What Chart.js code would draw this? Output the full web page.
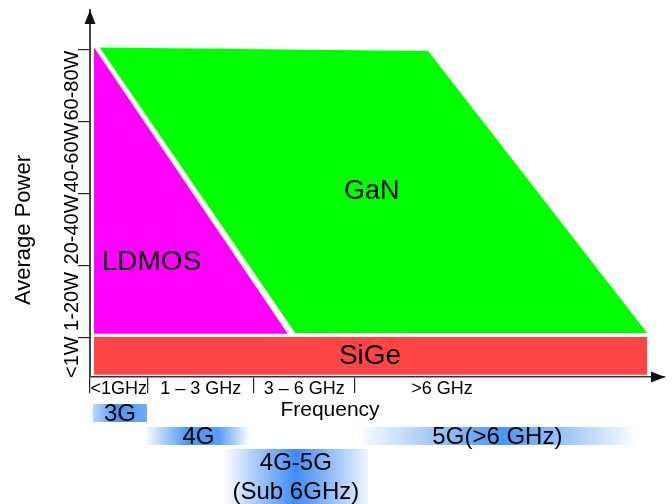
<!DOCTYPE html>
<html><head><meta charset="utf-8">
<script src="https://cdn.jsdelivr.net/npm/chart.js@4/dist/chart.umd.min.js"></script>
<style>html,body{margin:0;padding:0;background:#fff;}#wrap{width:672px;height:504px;position:relative;}</style>
</head><body><div id="wrap"><canvas id="c"></canvas></div>
<script>
// ---- Frequency axis (abstract units), category boundaries and labels
const freqBounds = [0, 1, 2.85, 4.6, 7.64];
const freqLabels = ['<1GHz', '1 – 3 GHz', '3 – 6 GHz', '>6 GHz'];
// ---- Power axis (abstract units), class boundaries and labels
const powerBounds = [0, 0.55, 1.55, 2.55, 3.55, 4.55];
const powerLabels = ['<1W', '1-20W', '20-40W', '40-60W', '60-80W'];
// ---- Technology regions (polygon vertices: frequency, power)
const ganFreq = [0.17, 5.88, 9.69, 3.57];
const ganPower = [4.58, 4.53, 0.61, 0.61];
const ldmosFreq = [0.07, 0.07, 3.44];
const ldmosPower = [4.58, 0.6, 0.6];
const sigeFreq = [0.07, 9.69, 9.69, 0.07];
const sigePower = [0.555, 0.555, 0.03, 0.03];
// ---- Region names and label anchors (frequency, power)
const regionNames = ['GaN', 'LDMOS', 'SiGe'];
const regionLabelFreq = [4.9, 1.07, 4.87];
const regionLabelPower = [2.58, 1.6, 0.29];
// ---- Cellular generations (frequency span)
const genNames = ['3G', '4G', '5G(>6 GHz)', '4G-5G\n(Sub 6GHz)'];
const genStart = [0.05, 0.99, 4.64, 2.33];
const genEnd = [0.99, 2.78, 9.53, 4.83];
const genRow = [0, 1, 1, 2];

const FONT = "'Liberation Sans', Arial, Helvetica, sans-serif";
const pts = (xs, ys) => xs.map((v, i) => ({x: v, y: ys[i]}));
const poly = (label, xs, ys, color) => ({
  label, data: pts(xs, ys), showLine: true, fill: 'shape',
  backgroundColor: color, borderColor: color, borderWidth: 0,
  pointRadius: 0, pointHoverRadius: 0, tension: 0
});

const xTickVals = [];
const xLabelMap = new Map();
freqBounds.slice(0, 4).forEach(v => xTickVals.push(v));
freqLabels.forEach((l, i) => {
  const m = (freqBounds[i] + freqBounds[i + 1]) / 2;
  xTickVals.push(m); xLabelMap.set(m, l);
});
xTickVals.sort((a, b) => a - b);

const rowLayout = [{top: 27, h: 18}, {top: 50, h: 18}, {top: 72, h: 55}];
const genStops = [
  [[0, '#bcd8fc'], [0.45, '#4b95f4'], [1, '#6fa9f6']],
  [[0, '#f3f8ff'], [0.4, '#4b95f4'], [0.7, '#5a9ef5'], [1, '#ffffff']],
  [[0, '#ffffff'], [0.52, '#4b95f4'], [1, '#ffffff']],
  [[0, '#ffffff'], [0.5, '#3d8cf3'], [1, '#eef5ff']]
];
const regionFontSize = [27, 28, 28];

const overlay = {
  id: 'overlay',
  beforeDraw(chart) {
    const c = chart.ctx; c.save(); c.fillStyle = '#fff';
    c.fillRect(0, 0, chart.width, chart.height); c.restore();
  },
  afterDraw(chart) {
    const {ctx, chartArea: ca, scales: {x, y}} = chart;
    ctx.save();
    // arrowheads
    ctx.fillStyle = '#111';
    ctx.beginPath();
    ctx.moveTo(ca.left, ca.top); ctx.lineTo(ca.left - 5.5, ca.top + 14); ctx.lineTo(ca.left + 5.5, ca.top + 14);
    ctx.closePath(); ctx.fill();
    ctx.beginPath();
    ctx.moveTo(ca.right, ca.bottom); ctx.lineTo(ca.right - 14, ca.bottom - 5.5); ctx.lineTo(ca.right - 14, ca.bottom + 5.5);
    ctx.closePath(); ctx.fill();

    ctx.fillStyle = '#000';
    ctx.textAlign = 'center'; ctx.textBaseline = 'middle';
    // power class labels (rotated)
    ctx.font = '20px ' + FONT;
    powerLabels.forEach((l, i) => {
      const py = y.getPixelForValue((powerBounds[i] + powerBounds[i + 1]) / 2);
      ctx.save(); ctx.translate(72, py); ctx.rotate(-Math.PI / 2); ctx.fillText(l, 0, 0); ctx.restore();
    });
    // axis titles
    ctx.font = '22px ' + FONT;
    ctx.save(); ctx.translate(24, 230); ctx.rotate(-Math.PI / 2); ctx.fillText('Average Power', 0, 0); ctx.restore();
    ctx.font = '21px ' + FONT;
    ctx.fillText('Frequency', 330, 410);
    // region labels
    regionNames.forEach((n, i) => {
      ctx.font = regionFontSize[i] + 'px ' + FONT;
      ctx.fillText(n, x.getPixelForValue(regionLabelFreq[i]), y.getPixelForValue(regionLabelPower[i]));
    });
    // generation bands
    genNames.forEach((n, i) => {
      const x0 = x.getPixelForValue(genStart[i]), x1 = x.getPixelForValue(genEnd[i]);
      const r = rowLayout[genRow[i]];
      const top = ca.bottom + r.top;
      const g = ctx.createLinearGradient(x0, 0, x1, 0);
      genStops[i].forEach(s => g.addColorStop(s[0], s[1]));
      ctx.fillStyle = g;
      ctx.fillRect(x0, top, x1 - x0, r.h);
      ctx.fillStyle = '#000';
      ctx.font = '24px ' + FONT;
      const lines = n.split('\n');
      const cx = (x0 + x1) / 2;
      if (lines.length === 1) ctx.fillText(lines[0], cx, top + r.h / 2 + 1);
      else { ctx.fillText(lines[0], cx, top + 14); ctx.fillText(lines[1], cx, top + 43); }
    });
    ctx.restore();
  }
};

new Chart(document.getElementById('c'), {
  type: 'scatter',
  data: {
    datasets: [
      poly('SiGe', sigeFreq, sigePower, '#ff4444'),
      poly('LDMOS', ldmosFreq, ldmosPower, '#ff00ff'),
      poly('GaN', ganFreq, ganPower, '#00ff00')
    ]
  },
  options: {
    responsive: true, maintainAspectRatio: false, animation: false,
    layout: {padding: {top: 10, right: 7, left: 0, bottom: 0}},
    plugins: {legend: {display: false}, tooltip: {enabled: false}},
    scales: {
      x: {
        type: 'linear', min: 0, max: 10,
        afterFit(s) { s.height = 127; },
        afterBuildTicks(s) { s.ticks = xTickVals.map(v => ({value: v})); },
        ticks: {
          autoSkip: false, maxRotation: 0, minRotation: 0, padding: -15,
          font: {family: FONT, size: 18}, color: '#000',
          callback: v => xLabelMap.has(v) ? xLabelMap.get(v) : ''
        },
        grid: {
          drawOnChartArea: false, drawTicks: true, tickLength: 16, lineWidth: 1.2,
          color: c => (c.tick && xLabelMap.has(c.tick.value)) ? 'rgba(0,0,0,0)' : '#222'
        },
        border: {display: true, color: '#333', width: 1.5}
      },
      y: {
        type: 'linear', min: 0, max: 5.1,
        afterFit(s) { s.width = 90; },
        afterBuildTicks(s) { s.ticks = powerBounds.slice(1).map(v => ({value: v})); },
        ticks: {display: false},
        grid: {drawOnChartArea: false, drawTicks: true, tickLength: 12, lineWidth: 1.2, color: '#222'},
        border: {display: true, color: '#444', width: 2}
      }
    }
  },
  plugins: [overlay]
});
</script>
</body></html>
